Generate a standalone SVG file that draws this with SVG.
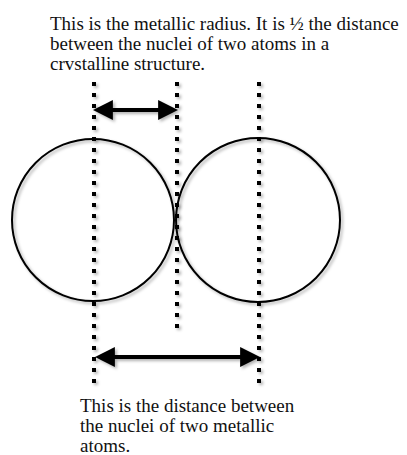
<svg xmlns="http://www.w3.org/2000/svg" width="407" height="455" viewBox="0 0 407 455">
<style>
.txt{font-family:"Liberation Serif","DejaVu Serif",serif;font-size:19px;fill:#111}
.atom{fill:none;stroke:#000;stroke-width:2}
.guide{stroke:#000;stroke-width:4;stroke-dasharray:4 7;fill:none}
.dim{stroke:#000;stroke-width:4;fill:none}
</style>
<defs>
<filter id="sh" x="-20%" y="-20%" width="140%" height="140%">
<feDropShadow dx="2" dy="2" stdDeviation="1.5" flood-color="#000" flood-opacity="0.3"/>
</filter>
<marker id="ah" markerUnits="userSpaceOnUse" markerWidth="20" markerHeight="20" viewBox="0 0 18 18" refX="8" refY="9" orient="auto-start-reverse">
<path d="M0,0 L18,9 L0,18 z" fill="#000"/>
</marker>
</defs>
<g id="atom-left" filter="url(#sh)"><circle class="atom" cx="93" cy="220" r="81"/></g>
<g id="atom-right" filter="url(#sh)"><circle class="atom" cx="258" cy="220" r="82"/></g>
<g id="connectors" filter="url(#sh)">
<line class="guide" x1="94" y1="82" x2="94" y2="387"/>
<line class="guide" x1="177" y1="82" x2="177" y2="331"/>
<line class="guide" x1="259" y1="82" x2="259" y2="387"/>
<line class="dim" x1="104" y1="110" x2="167" y2="110" marker-start="url(#ah)" marker-end="url(#ah)"/>
<line class="dim" x1="106" y1="357" x2="249" y2="357" marker-start="url(#ah)" marker-end="url(#ah)"/>
</g>
<g id="label-radius">
<text class="txt" x="50" y="29.5">This is the metallic radius. It is ½ the distance</text>
<text class="txt" x="50" y="49.5">between the nuclei of two atoms in a</text>
<text class="txt" x="50" y="69.5">crvstalline structure.</text>
</g>
<g id="label-distance">
<text class="txt" x="80" y="412">This is the distance between</text>
<text class="txt" x="80" y="432">the nuclei of two metallic</text>
<text class="txt" x="80" y="452">atoms.</text>
</g>
</svg>
